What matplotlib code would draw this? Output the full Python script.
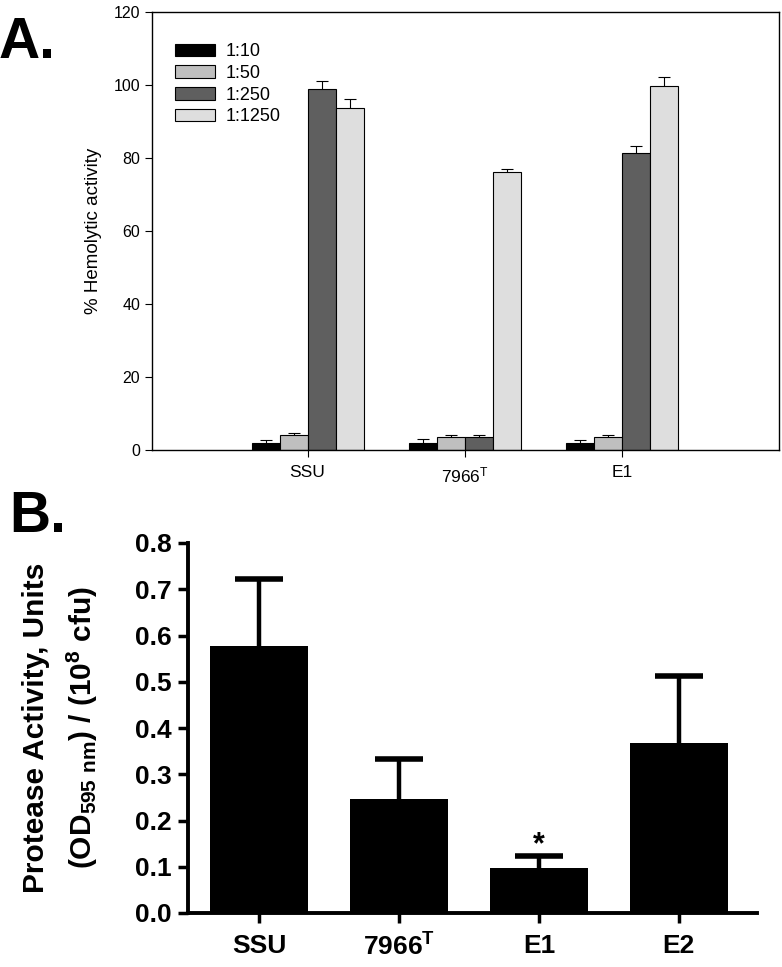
import matplotlib
matplotlib.use("Agg")
import matplotlib.pyplot as plt
import numpy as np

# ---- Panel A data ----
groups_a = ["SSU", "7966$^{\\mathregular{T}}$", "E1"]
dilutions = ["1:10", "1:50", "1:250", "1:1250"]
hemo_1_10 = [2.0, 2.0, 2.0]
hemo_1_50 = [4.0, 3.5, 3.5]
hemo_1_250 = [99.0, 3.5, 81.3]
hemo_1_1250 = [93.8, 76.3, 99.8]
err_1_10 = [0.8, 0.9, 0.7]
err_1_50 = [0.6, 0.5, 0.5]
err_1_250 = [2.1, 0.5, 2.0]
err_1_1250 = [2.3, 0.6, 2.3]
colors_a = ["#000000", "#bfbfbf", "#5f5f5f", "#dedede"]
yticks_a = [0, 20, 40, 60, 80, 100, 120]

# ---- Panel B data ----
groups_b = ["SSU", "7966$^{\\mathregular{T}}$", "E1", "E2"]
protease = [0.578, 0.247, 0.098, 0.368]
protease_err = [0.145, 0.085, 0.026, 0.144]
yticks_b = [0.0, 0.1, 0.2, 0.3, 0.4, 0.5, 0.6, 0.7, 0.8]

plt.rcParams['font.family'] = ['Liberation Sans', 'DejaVu Sans']
plt.rcParams['mathtext.default'] = 'regular'

fig = plt.figure(figsize=(7.82, 9.67), dpi=100)

# ---------------- Panel A ----------------
axA = fig.add_axes([152/782, 1-450/967, (779-152)/782, (450-12)/967])
series = [hemo_1_10, hemo_1_50, hemo_1_250, hemo_1_1250]
errs = [err_1_10, err_1_50, err_1_250, err_1_1250]
x = np.arange(1, len(groups_a)+1)
w = 0.178
for i, (vals, e) in enumerate(zip(series, errs)):
    pos = x + (i - 1.5) * w
    axA.bar(pos, vals, width=w, color=colors_a[i], edgecolor="black",
            linewidth=0.8, label=dilutions[i], zorder=2)
    eb = axA.errorbar(pos, vals, yerr=[np.zeros(len(vals)), e], fmt="none",
                      ecolor="black", elinewidth=0.8, capsize=4, capthick=0.8, zorder=3)
    eb[1][0].set_visible(False)
axA.set_xlim(0.01, 4.0)
axA.set_ylim(0, 120)
axA.set_yticks(yticks_a)
axA.set_xticks(x)
axA.set_xticklabels(groups_a, fontsize=12.5)
axA.tick_params(axis="y", labelsize=11.5, direction="out", length=5, width=0.8)
axA.tick_params(axis="x", direction="out", length=5, width=0.8, pad=6)
axA.set_ylabel("% Hemolytic activity", fontsize=13.5, labelpad=8)
for s in axA.spines.values():
    s.set_linewidth(1.0)
leg = axA.legend(loc="upper left", bbox_to_anchor=(0.025, 0.945), frameon=False,
                 fontsize=13, handlelength=2.2, handleheight=0.7,
                 labelspacing=0.26, handletextpad=0.6, borderaxespad=0)
fig.text(-0.002, 1-58/967, "A.", fontsize=41, fontweight="bold", va="baseline", ha="left")

# ---------------- Panel B ----------------
axB = fig.add_axes([188/782, 1-913/967, (757-188)/782, (913-543)/967])
xb = np.arange(len(groups_b))
axB.bar(xb, protease, width=0.7, color="black", zorder=2)
eb = axB.errorbar(xb, protease, yerr=[np.zeros(len(protease)), protease_err], fmt="none",
                  ecolor="black", elinewidth=3.2, capsize=17.5, capthick=4, zorder=3)
eb[1][0].set_visible(False)
axB.set_xlim(-0.51, 3.56)
axB.set_ylim(0, 0.8)
axB.set_yticks(yticks_b)
axB.set_yticklabels([f"{v:.1f}" for v in yticks_b])
axB.set_xticks(xb)
axB.set_xticklabels(groups_b)
for lab in axB.get_xticklabels() + axB.get_yticklabels():
    lab.set_fontweight("bold")
    lab.set_fontsize(19)
axB.tick_params(direction="out", length=7, width=2.5)
axB.tick_params(axis="x", pad=8)
axB.tick_params(axis="y", pad=5)
for side in ["top", "right"]:
    axB.spines[side].set_visible(False)
for side in ["left", "bottom"]:
    axB.spines[side].set_linewidth(2.8)
axB.set_ylabel("Protease Activity, Units\n(OD$_{595\\ nm}$) / (10$^{8}$ cfu)",
               fontsize=21.5, fontweight="bold", linespacing=1.55)
axB.yaxis.set_label_coords((100-188)/569, 0.5)
axB.annotate("*", xy=(2, 0.124), xytext=(0, -3), textcoords="offset points",
             ha="center", va="bottom", fontsize=22, fontweight="bold")
fig.text(0.012, 1-532/967, "B.", fontsize=41, fontweight="bold", va="baseline", ha="left")

fig.savefig("out.png", dpi=100)
